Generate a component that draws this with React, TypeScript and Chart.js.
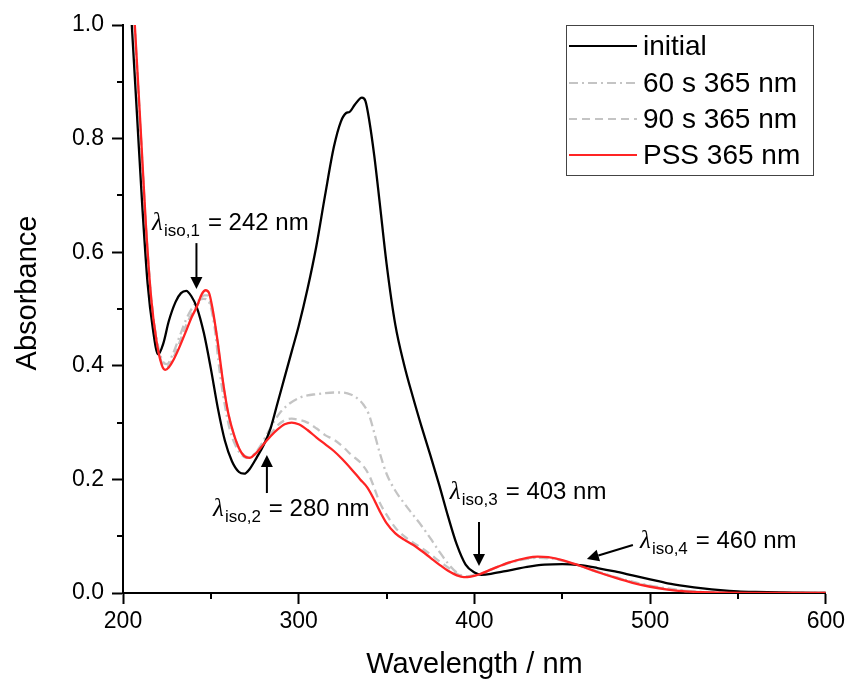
import React, { useEffect, useRef } from 'react';
import { Chart, registerables } from 'chart.js';

Chart.register(...registerables);

// ---------- data ----------
const seriesLabels = ['initial', '60 s 365 nm', '90 s 365 nm', 'PSS 365 nm'];

const initialWl = [202, 205, 208, 211, 214, 217, 220, 223, 226, 230, 233, 236, 239, 242, 246, 250, 254, 258, 262, 266, 269, 272, 276, 280, 284, 288, 292, 296, 300, 305, 310, 315, 320, 324, 327, 329, 332, 336, 338, 340, 343, 346, 350, 355, 360, 365, 370, 375, 380, 385, 390, 395, 400, 404, 410, 420, 430, 440, 450, 460, 470, 480, 490, 500, 510, 520, 530, 540, 550, 560, 580, 600];
const initialAbs = [1.16, 1.0, 0.84, 0.68, 0.545, 0.465, 0.42, 0.44, 0.478, 0.513, 0.528, 0.532, 0.522, 0.503, 0.458, 0.395, 0.325, 0.268, 0.232, 0.213, 0.21, 0.218, 0.238, 0.26, 0.29, 0.335, 0.38, 0.425, 0.47, 0.535, 0.61, 0.7, 0.785, 0.83, 0.845, 0.847, 0.86, 0.872, 0.866, 0.835, 0.77, 0.69, 0.58, 0.472, 0.402, 0.345, 0.292, 0.242, 0.19, 0.135, 0.085, 0.05, 0.036, 0.032, 0.034, 0.04, 0.046, 0.05, 0.051, 0.049, 0.044, 0.038, 0.031, 0.024, 0.017, 0.012, 0.008, 0.005, 0.003, 0.002, 0.0008, 0.0002];

const s60Wl = [204, 207, 210, 213, 216, 219, 222, 225, 228, 232, 236, 240, 243, 246, 249, 252, 255, 258, 261, 264, 267, 270, 274, 278, 282, 286, 290, 295, 300, 305, 310, 315, 320, 325, 330, 334, 337, 340, 343, 346, 350, 355, 360, 365, 370, 375, 380, 385, 390, 395, 400, 405, 410, 420, 430, 437, 445, 450, 460, 470, 480, 490, 500, 510, 520, 530, 540, 560, 600];
const s60Abs = [1.14, 0.975, 0.81, 0.645, 0.52, 0.45, 0.412, 0.403, 0.418, 0.45, 0.482, 0.505, 0.515, 0.518, 0.512, 0.47, 0.39, 0.33, 0.285, 0.26, 0.245, 0.238, 0.242, 0.258, 0.28, 0.302, 0.32, 0.334, 0.343, 0.348, 0.35, 0.352, 0.353, 0.353, 0.349, 0.341, 0.331, 0.314, 0.282, 0.248, 0.21, 0.18, 0.158, 0.138, 0.118, 0.096, 0.073, 0.052, 0.036, 0.029, 0.031, 0.035, 0.042, 0.053, 0.06, 0.062, 0.06, 0.057, 0.048, 0.038, 0.028, 0.02, 0.013, 0.008, 0.004, 0.002, 0.001, 0.0003, 0];

const s90Wl = [204, 207, 210, 213, 216, 219, 222, 225, 228, 232, 236, 240, 243, 246, 248, 250, 253, 256, 259, 262, 265, 268, 271, 275, 280, 284, 288, 292, 296, 300, 305, 310, 315, 320, 325, 330, 335, 340, 343, 346, 350, 355, 360, 365, 370, 375, 380, 385, 390, 395, 400, 405, 410, 420, 430, 437, 445, 450, 460, 470, 480, 490, 500, 510, 520, 530, 540, 560, 600];
const s90Abs = [1.145, 0.98, 0.815, 0.648, 0.52, 0.447, 0.406, 0.398, 0.41, 0.44, 0.472, 0.496, 0.51, 0.524, 0.524, 0.508, 0.46, 0.39, 0.33, 0.29, 0.262, 0.245, 0.239, 0.245, 0.262, 0.28, 0.295, 0.304, 0.307, 0.305, 0.3, 0.29, 0.278, 0.27, 0.258, 0.243, 0.23, 0.208, 0.185, 0.16, 0.138, 0.115, 0.1, 0.089, 0.079, 0.068, 0.056, 0.045, 0.034, 0.029, 0.031, 0.035, 0.042, 0.054, 0.061, 0.063, 0.061, 0.057, 0.048, 0.037, 0.028, 0.019, 0.012, 0.007, 0.0035, 0.0015, 0.0007, 0.0002, 0];

const pssWl = [204, 207, 210, 213, 216, 219, 222, 224, 226, 229, 232, 236, 239, 242, 245, 247, 249, 251, 254, 257, 260, 263, 266, 269, 272, 276, 280, 284, 288, 292, 296, 300, 305, 310, 315, 320, 325, 330, 335, 339, 342, 346, 350, 355, 360, 365, 370, 375, 380, 385, 390, 394, 398, 403, 410, 420, 430, 436, 442, 450, 460, 470, 480, 490, 500, 510, 520, 530, 540, 560, 600];
const pssAbs = [1.15, 0.985, 0.82, 0.65, 0.52, 0.445, 0.402, 0.393, 0.397, 0.412, 0.432, 0.462, 0.485, 0.504, 0.527, 0.533, 0.528, 0.5, 0.44, 0.37, 0.315, 0.28, 0.255, 0.241, 0.238, 0.247, 0.262, 0.276, 0.288, 0.297, 0.3, 0.297, 0.287, 0.274, 0.262, 0.25, 0.235, 0.218, 0.2, 0.186, 0.17, 0.145, 0.123, 0.105, 0.094, 0.085, 0.074, 0.062, 0.05, 0.039, 0.031, 0.028, 0.029, 0.033, 0.042, 0.054, 0.062, 0.064, 0.063, 0.058, 0.048, 0.037, 0.027, 0.018, 0.011, 0.006, 0.003, 0.0015, 0.0008, 0.0003, 0];

// isosbestic annotations
const isoSubs = ['iso,1', 'iso,2', 'iso,3', 'iso,4'];
const isoTexts = ['242 nm', '280 nm', '403 nm', '460 nm'];
const isoLabelX = [216.5, 251.2, 386.0, 494.2];
const isoLabelY = [0.639, 0.136, 0.165, 0.079];
const arrowFromX = [241.8, 281.9, 402.6, 490.2];
const arrowFromY = [0.616, 0.176, 0.125, 0.0845];
const arrowToX = [241.8, 281.9, 402.6, 464.0];
const arrowToY = [0.535, 0.243, 0.0475, 0.06];

const xMajorTicks = [200, 300, 400, 500, 600];
const yMajorTicks = [0, 0.2, 0.4, 0.6, 0.8, 1.0];

const FONT = '"Liberation Sans", Arial, sans-serif';

const isMajorX = (v: number) => xMajorTicks.some((t) => Math.abs(t - v) < 1e-6);
const isMajorY = (v: number) => yMajorTicks.some((t) => Math.abs(t - v) < 1e-6);

const toPoints = (xs: number[], ys: number[]) => xs.map((x, i) => ({ x, y: ys[i] }));

const extrasPlugin = {
  id: 'extras',
  afterDraw(chart: any) {
    const ctx = chart.ctx as CanvasRenderingContext2D;
    const xs = chart.scales.x;
    const ys = chart.scales.y;
    const area = chart.chartArea;
    ctx.save();

    // minor ticks
    ctx.strokeStyle = '#000';
    ctx.lineWidth = 2;
    xs.ticks.forEach((t: any) => {
      if (!isMajorX(t.value)) {
        const px = Math.round(xs.getPixelForValue(t.value));
        ctx.beginPath();
        ctx.moveTo(px, area.bottom);
        ctx.lineTo(px, area.bottom + 6);
        ctx.stroke();
      }
    });
    ys.ticks.forEach((t: any) => {
      if (!isMajorY(t.value)) {
        const py = Math.round(ys.getPixelForValue(t.value));
        ctx.beginPath();
        ctx.moveTo(area.left, py);
        ctx.lineTo(area.left - 6, py);
        ctx.stroke();
      }
    });

    // y axis title
    ctx.save();
    ctx.translate(28, 293);
    ctx.rotate(-Math.PI / 2);
    ctx.fillStyle = '#000';
    ctx.font = `29px ${FONT}`;
    ctx.textAlign = 'center';
    ctx.textBaseline = 'middle';
    ctx.fillText('Absorbance', 0, 0);
    ctx.restore();

    // annotations: arrows
    ctx.fillStyle = '#000';
    ctx.strokeStyle = '#000';
    ctx.lineWidth = 2;
    for (let i = 0; i < isoSubs.length; i++) {
      const x1 = xs.getPixelForValue(arrowFromX[i]);
      const y1 = ys.getPixelForValue(arrowFromY[i]);
      const x2 = xs.getPixelForValue(arrowToX[i]);
      const y2 = ys.getPixelForValue(arrowToY[i]);
      const ang = Math.atan2(y2 - y1, x2 - x1);
      const hl = 12;
      const hw = 6;
      const bx = x2 - hl * Math.cos(ang);
      const by = y2 - hl * Math.sin(ang);
      ctx.beginPath();
      ctx.moveTo(x1, y1);
      ctx.lineTo(bx, by);
      ctx.stroke();
      ctx.beginPath();
      ctx.moveTo(x2, y2);
      ctx.lineTo(bx + hw * Math.sin(ang), by - hw * Math.cos(ang));
      ctx.lineTo(bx - hw * Math.sin(ang), by + hw * Math.cos(ang));
      ctx.closePath();
      ctx.fill();

      // label
      const lx = xs.getPixelForValue(isoLabelX[i]);
      const ly = ys.getPixelForValue(isoLabelY[i]);
      ctx.textAlign = 'left';
      ctx.textBaseline = 'alphabetic';
      ctx.font = 'italic 25px "Liberation Serif", "Times New Roman", serif';
      ctx.fillText('λ', lx, ly);
      const subX = lx + 12;
      ctx.font = `17px ${FONT}`;
      ctx.fillText(isoSubs[i], subX, ly + 6);
      const w2 = ctx.measureText(isoSubs[i]).width;
      ctx.font = `24px ${FONT}`;
      ctx.fillText('= ' + isoTexts[i], subX + w2 + 8, ly);
    }

    // legend
    const bx0 = 566, by0 = 25, bw = 247, bh = 150;
    ctx.strokeStyle = '#444';
    ctx.lineWidth = 1;
    ctx.strokeRect(bx0 + 0.5, by0 + 0.5, bw, bh);
    const rowY = [46, 83, 119, 155];
    chart.data.datasets.forEach((ds: any, i: number) => {
      const y = rowY[i];
      ctx.save();
      ctx.strokeStyle = ds.borderColor;
      ctx.lineWidth = 2;
      ctx.setLineDash(ds.borderDash || []);
      ctx.beginPath();
      ctx.moveTo(569, y);
      ctx.lineTo(637, y);
      ctx.stroke();
      ctx.restore();
      ctx.fillStyle = '#000';
      ctx.font = `28px ${FONT}`;
      ctx.textAlign = 'left';
      ctx.textBaseline = 'middle';
      ctx.fillText(ds.label, 643, y + 1);
    });

    ctx.restore();
  },
};

export default function App() {
  const canvasRef = useRef<HTMLCanvasElement | null>(null);

  useEffect(() => {
    if (!canvasRef.current) return;
    const common = {
      pointRadius: 0,
      pointHoverRadius: 0,
      borderWidth: 2.3,
      fill: false,
      cubicInterpolationMode: 'monotone' as const,
    };
    const chart = new Chart(canvasRef.current, {
      type: 'line',
      data: {
        datasets: [
          { ...common, label: seriesLabels[0], data: toPoints(initialWl, initialAbs), borderColor: '#000000', order: 1 },
          { ...common, label: seriesLabels[1], data: toPoints(s60Wl, s60Abs), borderColor: '#c4c4c4', borderDash: [9, 4, 2, 4], order: 3 },
          { ...common, label: seriesLabels[2], data: toPoints(s90Wl, s90Abs), borderColor: '#c4c4c4', borderDash: [8, 5], order: 2 },
          { ...common, label: seriesLabels[3], data: toPoints(pssWl, pssAbs), borderColor: '#ff2424', order: 0 },
        ],
      },
      options: {
        responsive: false,
        animation: false,
        events: [],
        layout: { padding: { left: 0, top: 25, right: 23, bottom: 0 } },
        plugins: {
          legend: { display: false },
          tooltip: { enabled: false },
        },
        scales: {
          x: {
            type: 'linear',
            min: 200,
            max: 600,
            afterFit: (s: any) => { s.height = 91; },
            ticks: {
              stepSize: 50,
              autoSkip: false,
              maxRotation: 0,
              padding: 4,
              color: '#000',
              font: { family: FONT, size: 23 },
              callback: (v: any) => (isMajorX(Number(v)) ? String(v) : ''),
            },
            grid: {
              drawOnChartArea: false,
              drawTicks: true,
              tickLength: 11,
              tickWidth: 2,
              tickColor: (c: any) => (c.tick && isMajorX(c.tick.value) ? '#000' : 'rgba(0,0,0,0)'),
            },
            border: { display: true, color: '#000', width: 2 },
            title: {
              display: true,
              text: 'Wavelength / nm',
              color: '#000',
              font: { family: FONT, size: 29 },
              padding: { top: 0, bottom: 2 },
            },
          },
          y: {
            type: 'linear',
            min: 0,
            max: 1.0,
            afterFit: (s: any) => { s.width = 123; },
            ticks: {
              stepSize: 0.1,
              autoSkip: false,
              padding: 8,
              color: '#000',
              font: { family: FONT, size: 23 },
              callback: (v: any) => (isMajorY(Number(v)) ? Number(v).toFixed(1) : ''),
            },
            grid: {
              drawOnChartArea: false,
              drawTicks: true,
              tickLength: 11,
              tickWidth: 2,
              tickColor: (c: any) => (c.tick && isMajorY(c.tick.value) ? '#000' : 'rgba(0,0,0,0)'),
            },
            border: { display: true, color: '#000', width: 2 },
            title: { display: false },
          },
        },
      },
      plugins: [extrasPlugin],
    } as any);
    return () => chart.destroy();
  }, []);

  return (
    <div style={{ position: 'absolute', left: 0, top: 0, width: 849, height: 684, background: '#fff' }}>
      <canvas ref={canvasRef} width={849} height={684} style={{ display: 'block' }} />
    </div>
  );
}
